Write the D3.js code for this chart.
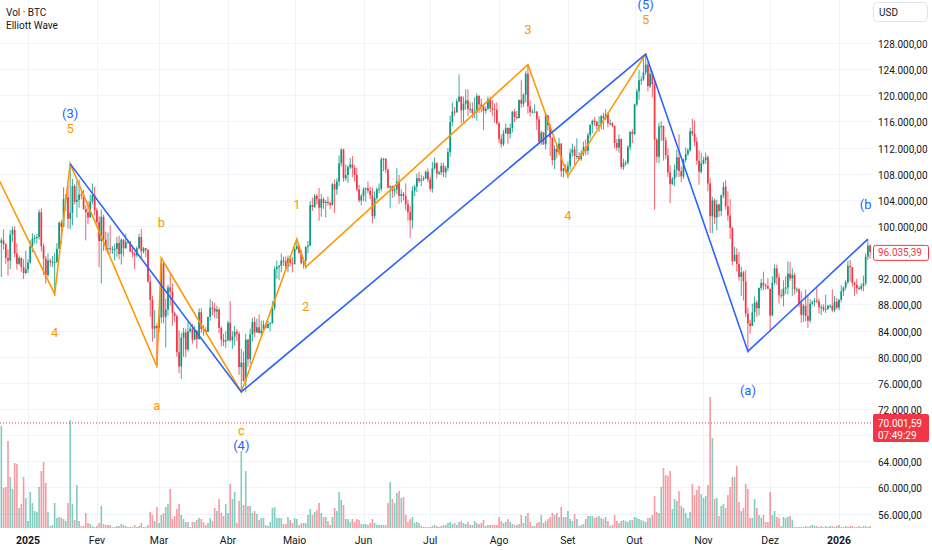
<!DOCTYPE html>
<html>
<head>
<meta charset="utf-8">
<script src="https://cdn.jsdelivr.net/npm/d3@7"></script>
<style>
  body { margin: 0; background: #ffffff; }
  svg text { font-family: Roboto, "Noto Sans", sans-serif; }
</style>
</head>
<body>
<div id="chart"></div>
<script>
// daily candles, prices in thousands of USD, first candle = 2024-12-20
var startDay = "2024-12-20";
var firstOpen = 97.4;

var closes = [
  97.8, 97.2, 95.1, 94.7, 98.7, 99.4, 95.8, 94.2, 95.1, 93.7, 92.8, 93.4,
  94.4, 96.9, 98.1, 98.2, 98.3, 102.1, 96.9, 95.0, 92.5, 94.7, 94.5, 94.5, 94.5, 96.5, 100.5, 99.9, 104.1, 104.4, 101.1, 102.0, 106.1, 103.7, 104.0, 104.8, 104.7, 102.6, 102.1, 101.3, 103.7, 104.7, 102.4,
  100.6, 97.7, 101.4, 97.9, 96.6, 96.6, 96.5, 96.5, 96.5, 97.4, 95.7, 97.9, 96.6, 97.5, 97.6, 96.1, 95.8, 95.5, 96.6, 98.3, 96.1, 96.6, 96.3, 91.5, 88.7, 84.3, 84.7, 84.4,
  86.0, 94.3, 86.1, 87.2, 90.6, 89.9, 86.7, 86.2, 80.7, 78.5, 82.9, 83.7, 81.1, 83.9, 84.3, 82.6, 84.0, 82.7, 86.8, 84.2, 84.1, 83.8, 86.1, 87.5, 87.4, 86.9, 87.2, 84.4, 82.6, 82.3, 82.5,
  85.2, 82.5, 83.1, 83.8, 83.5, 78.4, 79.1, 76.3, 82.6, 79.6, 83.4, 85.3, 83.7, 84.5, 83.6, 84.0, 84.9, 84.4, 85.0, 85.1, 87.5, 93.4, 93.7, 93.9, 94.7, 94.6, 93.8, 95.0, 94.3, 94.2,
  96.5, 96.9, 95.9, 94.3, 94.7, 96.8, 97.0, 103.2, 102.9, 104.6, 104.1, 102.8, 104.1, 103.5, 103.7, 103.5, 103.2, 106.4, 105.6, 106.8, 109.6, 111.7, 107.3, 107.8, 109.0, 109.4, 108.9, 107.8, 105.6, 103.9, 104.6,
  105.6, 105.8, 105.4, 104.7, 101.5, 104.3, 105.6, 105.7, 110.2, 110.3, 108.6, 105.9, 106.1, 105.4, 105.6, 106.8, 104.6, 104.9, 104.6, 103.3, 102.1, 100.9, 105.4, 106.0, 107.3, 106.9, 107.1, 107.3, 108.3, 107.1,
  105.7, 108.8, 109.6, 108.0, 108.2, 109.2, 108.2, 108.9, 111.3, 115.9, 117.5, 117.4, 119.1, 119.8, 117.7, 118.7, 119.2, 117.9, 117.9, 117.3, 117.4, 119.9, 118.6, 118.3, 117.6, 117.9, 119.4, 118.0, 117.9, 117.8, 115.7,
  113.3, 112.5, 114.2, 115.0, 114.1, 115.0, 117.5, 116.7, 116.5, 119.3, 118.7, 120.1, 123.3, 118.3, 117.4, 117.5, 117.5, 116.3, 112.9, 114.3, 112.5, 116.9, 115.4, 113.5, 110.1, 111.8, 111.3, 112.6, 108.4, 108.8, 108.3,
  109.2, 111.2, 111.7, 110.7, 110.7, 110.2, 111.1, 112.1, 111.5, 113.9, 115.5, 116.1, 115.9, 115.3, 115.4, 116.8, 116.5, 117.1, 115.7, 115.7, 115.3, 112.7, 112.0, 113.3, 109.0, 109.6, 109.7, 112.1, 114.4, 114.1,
  118.6, 120.6, 122.3, 122.4, 123.5, 124.7, 121.4, 123.3, 121.7, 113.2, 110.6, 115.2, 115.3, 113.1, 110.8, 108.2, 106.4, 107.2, 108.6, 110.5, 108.4, 107.6, 110.1, 111.0, 111.6, 114.5, 114.1, 112.9, 110.0, 108.3, 109.6,
  110.1, 110.5, 106.5, 101.5, 103.9, 101.3, 103.3, 102.3, 104.7, 106.0, 103.0, 101.6, 99.7, 94.6, 95.6, 94.2, 92.2, 92.9, 91.5, 86.6, 85.1, 84.7, 86.8, 88.3, 87.4, 90.5, 91.3, 90.9, 90.8, 90.4,
  86.3, 91.3, 93.5, 92.1, 89.4, 89.3, 90.4, 90.6, 92.7, 92.0, 92.5, 90.3, 90.3, 88.2, 86.4, 87.8, 86.2, 85.5, 88.1, 88.4, 88.6, 88.5, 87.6, 87.6, 87.2, 87.3, 87.8, 87.8, 87.1, 88.4, 87.5,
  88.7, 90.0, 90.6, 91.4, 93.9, 93.7, 91.3, 91.0, 90.5, 90.4, 90.8, 91.2, 95.3, 97.0, 96.035
];

var highs = [
  98.2, 99.5, 97.4, 96.4, 99.4, 99.9, 99.9, 97.3, 95.5, 95.2, 94.9, 96.2,
  94.9, 97.8, 98.9, 98.7, 98.8, 102.5, 102.7, 97.3, 95.4, 95.8, 95.0, 95.4, 95.9, 97.4, 100.7, 100.9, 105.9, 104.9, 106.3, 109.6, 107.2, 106.4, 106.8, 107.1, 105.3, 105.5, 103.2, 103.8, 104.8, 106.5, 106.0,
  102.8, 101.5, 102.5, 101.7, 99.1, 99.0, 100.1, 96.9, 97.3, 98.3, 98.5, 98.1, 98.0, 98.8, 97.9, 97.7, 97.0, 96.0, 96.9, 98.8, 99.5, 96.8, 96.5, 96.5, 92.5, 89.3, 87.1, 85.1,
  86.6, 95.0, 94.4, 88.9, 91.0, 92.8, 91.2, 86.9, 86.5, 84.0, 83.6, 84.4, 84.3, 85.3, 84.7, 85.0, 84.7, 84.0, 87.4, 87.4, 84.8, 84.5, 86.1, 88.8, 88.5, 88.3, 87.8, 87.5, 84.6, 83.5, 83.9,
  85.5, 88.5, 83.9, 84.7, 84.2, 83.8, 81.2, 80.8, 83.5, 82.7, 84.3, 85.9, 86.1, 85.8, 86.5, 85.5, 85.5, 85.1, 85.6, 85.3, 88.5, 93.8, 94.7, 94.0, 95.8, 95.3, 95.3, 95.5, 95.5, 95.2,
  97.4, 97.9, 96.9, 96.3, 95.2, 96.9, 97.7, 103.8, 104.3, 104.9, 104.9, 105.8, 104.9, 104.4, 104.0, 104.5, 103.7, 106.6, 107.1, 107.3, 110.8, 111.9, 111.8, 109.4, 109.3, 110.4, 110.7, 109.3, 108.9, 106.3, 104.9,
  105.9, 105.9, 106.8, 106.0, 105.9, 105.3, 105.9, 106.5, 110.5, 110.4, 110.4, 108.8, 106.2, 106.2, 106.0, 108.9, 107.8, 105.6, 105.2, 106.5, 104.0, 103.0, 106.1, 106.3, 108.0, 108.3, 107.8, 107.6, 108.5, 108.8,
  107.5, 109.8, 110.5, 109.8, 108.5, 109.7, 109.7, 109.2, 111.9, 116.9, 118.9, 118.2, 119.5, 123.2, 119.9, 119.8, 120.9, 120.9, 118.9, 118.9, 119.7, 120.3, 120.0, 119.5, 118.5, 118.3, 119.8, 119.8, 119.3, 118.8, 118.9,
  116.0, 114.0, 114.7, 115.7, 115.1, 115.7, 117.6, 117.9, 117.6, 119.3, 122.3, 120.3, 123.7, 124.5, 119.2, 117.9, 118.6, 117.6, 116.8, 114.6, 114.4, 117.4, 117.0, 115.6, 113.6, 112.4, 112.6, 113.5, 112.7, 108.9, 109.5,
  109.9, 111.8, 112.6, 112.2, 113.4, 111.3, 111.6, 112.9, 113.2, 114.3, 115.5, 116.3, 116.7, 116.1, 116.8, 117.0, 117.3, 117.9, 117.4, 116.3, 115.9, 115.4, 113.3, 114.0, 113.4, 110.3, 110.0, 112.4, 114.5, 114.8,
  118.7, 121.0, 123.9, 122.9, 125.7, 126.2, 125.1, 124.2, 123.7, 122.5, 113.5, 115.8, 116.0, 115.4, 113.6, 111.9, 109.3, 107.5, 109.4, 111.7, 114.0, 109.1, 110.3, 112.0, 111.9, 115.0, 116.4, 116.1, 113.6, 111.6, 111.2,
  110.6, 111.2, 110.8, 107.3, 104.5, 104.2, 104.0, 103.4, 104.8, 106.7, 107.0, 105.3, 104.1, 99.9, 96.8, 96.6, 96.0, 93.8, 93.1, 93.2, 87.5, 85.6, 88.1, 89.2, 88.6, 90.6, 91.9, 93.0, 91.2, 92.0,
  90.4, 92.3, 94.1, 94.1, 92.7, 90.3, 91.7, 92.3, 94.6, 94.5, 93.5, 92.8, 90.6, 90.5, 90.0, 88.1, 90.3, 89.4, 88.8, 88.6, 89.0, 90.6, 88.9, 88.0, 88.0, 89.5, 87.9, 88.0, 90.3, 89.3, 89.0,
  88.8, 90.9, 90.7, 91.7, 94.7, 94.8, 93.6, 91.5, 91.9, 90.8, 91.2, 92.4, 95.8, 97.9, 97.2
];

var lows = [
  92.2, 96.4, 94.2, 92.4, 93.4, 97.6, 95.2, 93.3, 94.0, 93.0, 91.9, 92.6,
  92.8, 94.2, 96.0, 97.3, 97.3, 97.9, 96.1, 92.5, 91.2, 92.2, 93.8, 93.7, 89.3, 94.3, 96.5, 97.3, 100.0, 102.3, 99.6, 99.5, 100.1, 103.3, 101.3, 102.8, 104.1, 102.5, 97.8, 100.3, 101.3, 103.3, 101.6,
  100.3, 93.7, 91.2, 96.2, 96.2, 95.7, 95.7, 95.7, 94.7, 95.3, 94.9, 94.1, 95.3, 96.5, 97.3, 96.0, 95.2, 93.4, 95.2, 96.4, 94.9, 95.8, 95.2, 91.3, 86.1, 82.3, 82.8, 78.3,
  83.7, 85.1, 85.1, 81.4, 86.3, 87.8, 84.7, 85.3, 80.0, 77.5, 76.6, 80.0, 79.9, 80.8, 83.6, 82.0, 82.5, 81.2, 82.6, 83.6, 83.2, 83.7, 83.8, 85.5, 86.3, 85.9, 85.8, 83.6, 81.6, 81.6, 81.3,
  82.4, 82.3, 81.2, 81.7, 82.4, 77.2, 74.5, 76.2, 74.6, 78.4, 78.9, 82.3, 83.0, 83.7, 83.6, 83.1, 83.9, 84.3, 84.3, 83.9, 85.1, 87.1, 91.9, 91.7, 92.9, 93.9, 93.1, 92.9, 93.8, 92.9,
  94.1, 96.3, 95.7, 94.1, 93.5, 93.4, 95.8, 96.9, 102.3, 102.8, 103.3, 100.8, 101.4, 102.6, 101.3, 103.1, 102.6, 103.1, 102.0, 104.8, 106.1, 109.1, 106.8, 106.9, 106.6, 108.7, 107.5, 106.8, 105.3, 103.6, 103.1,
  103.8, 103.7, 105.0, 104.1, 100.4, 101.1, 103.9, 105.0, 105.3, 108.4, 108.1, 105.7, 102.7, 104.3, 104.5, 104.9, 103.4, 103.6, 103.9, 102.4, 100.8, 98.2, 99.6, 104.6, 105.2, 106.6, 106.1, 106.9, 107.2, 106.7,
  105.3, 105.1, 108.6, 107.3, 107.8, 107.8, 107.5, 107.4, 108.4, 110.6, 115.3, 116.9, 117.3, 118.9, 115.7, 115.9, 117.8, 116.8, 117.3, 116.5, 116.5, 116.1, 117.3, 117.4, 114.7, 117.2, 117.8, 117.4, 116.9, 115.8, 115.5,
  112.7, 112.0, 112.2, 114.1, 112.6, 113.4, 114.3, 115.9, 116.3, 116.5, 118.1, 118.2, 118.9, 117.2, 116.8, 117.2, 117.3, 114.7, 112.7, 112.4, 112.4, 111.7, 114.6, 110.7, 109.3, 108.7, 110.4, 110.9, 107.5, 107.4, 108.1,
  107.3, 108.6, 110.6, 109.3, 110.2, 110.0, 110.0, 110.7, 110.8, 110.9, 113.4, 114.2, 115.3, 114.8, 114.4, 114.8, 114.7, 116.2, 115.1, 115.4, 115.1, 111.9, 111.5, 111.2, 108.7, 108.6, 109.2, 109.4, 111.6, 112.7,
  113.9, 118.3, 119.3, 121.6, 122.2, 123.1, 120.6, 121.1, 119.7, 102.5, 109.7, 109.6, 113.0, 110.0, 110.2, 107.5, 103.5, 106.3, 106.1, 107.5, 107.5, 106.7, 107.2, 109.7, 110.7, 111.3, 113.8, 112.2, 109.4, 106.3, 108.0,
  109.4, 109.5, 105.3, 98.9, 98.9, 100.3, 99.3, 101.4, 101.5, 104.3, 102.5, 100.8, 98.0, 94.0, 94.6, 93.0, 91.6, 89.3, 88.6, 86.1, 80.6, 83.5, 84.7, 85.3, 86.1, 86.3, 90.1, 90.2, 90.3, 90.3,
  83.8, 86.2, 91.0, 91.0, 88.1, 88.9, 87.7, 89.6, 89.5, 91.6, 89.3, 89.5, 89.8, 87.6, 85.2, 85.3, 85.4, 84.4, 85.2, 87.9, 87.7, 88.2, 86.6, 86.4, 86.9, 86.7, 87.2, 87.4, 86.8, 86.8, 87.3,
  87.1, 88.3, 89.3, 90.2, 91.1, 91.5, 90.7, 89.3, 89.6, 90.2, 90.1, 90.0, 90.9, 94.8, 95.0
];

// volume, thousands of BTC
var volumes = [
  102, 40, 41, 87, 51, 39, 65, 64, 20, 24, 51, 30, 7, 36, 25, 17, 16, 41, 57, 66,
  45, 16, 2, 3, 25, 10, 11, 10, 9, 7, 25, 108, 24, 8, 43, 7, 2, 2, 15, 5,
  4, 2, 1, 2, 5, 22, 4, 3, 3, 3, 1, 1, 2, 2, 4, 3, 2, 1, 1, 1,
  3, 1, 2, 5, 1, 1, 3, 16, 13, 7, 21, 5, 13, 15, 21, 24, 39, 9, 12, 19,
  24, 13, 9, 6, 6, 1, 6, 6, 8, 10, 9, 6, 3, 5, 10, 7, 20, 17, 29, 15,
  12, 24, 15, 44, 29, 36, 5, 27, 77, 23, 57, 22, 22, 15, 17, 14, 8, 10, 10, 3,
  2, 6, 20, 21, 10, 10, 10, 4, 4, 11, 8, 5, 10, 9, 3, 5, 5, 5, 13, 19,
  13, 16, 18, 25, 15, 11, 11, 7, 3, 11, 20, 17, 36, 28, 23, 9, 9, 6, 9, 6,
  9, 8, 4, 4, 4, 3, 5, 9, 5, 3, 3, 3, 3, 3, 25, 46, 29, 25, 35, 37,
  30, 31, 13, 6, 9, 11, 5, 6, 5, 2, 1, 1, 1, 1, 2, 3, 2, 1, 2, 3,
  3, 5, 6, 4, 5, 3, 6, 7, 5, 4, 6, 3, 3, 7, 5, 4, 5, 8, 2, 3,
  3, 3, 3, 3, 11, 7, 5, 6, 9, 6, 4, 3, 3, 4, 13, 5, 12, 15, 6, 2,
  2, 5, 6, 13, 5, 7, 9, 11, 15, 13, 15, 11, 21, 11, 11, 17, 9, 7, 14, 9,
  2, 3, 4, 9, 12, 12, 12, 10, 11, 12, 10, 9, 11, 7, 2, 3, 13, 7, 5, 7,
  8, 7, 6, 8, 8, 11, 10, 9, 8, 7, 6, 10, 10, 13, 32, 16, 15, 41, 60, 53,
  52, 57, 19, 29, 27, 37, 22, 20, 15, 10, 16, 44, 33, 38, 42, 34, 30, 32, 43, 131,
  90, 29, 30, 12, 22, 24, 20, 33, 41, 51, 51, 62, 26, 17, 20, 44, 39, 10, 10, 29,
  20, 13, 10, 13, 6, 6, 36, 13, 17, 11, 10, 2, 11, 10, 11, 12, 8,
  1, 1, 1, 1, 1, 2, 1, 2, 3, 2, 2, 1, 2, 1, 2, 1, 2, 2, 1, 2,
  3, 1, 1, 2, 1, 2, 2, 1, 1, 2, 1, 2, 2, 1, 2
];

// Elliott wave pivots
var blueWaveDates  = ["2025-01-20", "2025-04-07", "2025-10-06", "2025-11-21", "2026-01-14"];
var blueWavePrices = [109.5, 74.6, 126.3, 80.8, 98.0];
var blueWaveLabels = ["(3)", "(4)", "(5)", "(a)", "(b)"];

var orangeWaveDates  = ["2024-12-17", "2025-01-13", "2025-01-20", "2025-02-28", "2025-03-02", "2025-04-07",
                        "2025-05-02", "2025-05-06", "2025-08-14", "2025-09-01", "2025-10-06"];
var orangeWavePrices = [108.4, 89.6, 109.5, 78.5, 95.1, 74.6, 98.0, 93.7, 124.7, 107.6, 126.3];
var orangeWaveLabels = ["", "4", "5", "a", "b", "c", "1", "2", "3", "4", "5"];

var monthLabels = ["2025", "Fev", "Mar", "Abr", "Maio", "Jun", "Jul", "Ago", "Set", "Out", "Nov", "Dez", "2026"];
var priceTicks = [56, 60, 64, 68, 72, 76, 80, 84, 88, 92, 96, 100, 104, 108, 112, 116, 120, 124, 128];
var lastPrice = 96.03539;
var livePrice = 70.00159;
var liveCountdown = "07:49:29";

var width = 932, height = 550;
var plotRight = 872;
var volBase = 528;
var upColor = "#089981", downColor = "#f23645";
var blueColor = "#2962ff", orangeColor = "#ff9800";
var textColor = "#131722";

var parseDay = d3.utcParse("%Y-%m-%d");
var first = parseDay(startDay);
var bars = closes.map(function (c, i) {
    var o = i === 0 ? firstOpen : closes[i - 1];
    return {
        date: d3.utcDay.offset(first, i),
        open: o,
        close: c,
        high: Math.max(highs[i], o, c),
        low: Math.min(lows[i], o, c),
        vol: volumes[i]
    };
});

var x = d3.scaleUtc()
    .domain([parseDay("2025-01-01"), parseDay("2026-01-01")])
    .range([28, 839]);
var y = d3.scaleLinear().domain([56, 128]).range([513.5, 43]);
var yVol = d3.scaleLinear().domain([0, 130]).range([volBase, volBase - 130]);

var fmtLocale = d3.formatLocale({ decimal: ",", thousands: ".", grouping: [3], currency: ["", ""] });
var fmtPrice = function (v) { return fmtLocale.format(",.2f")(v * 1000); };

var svg = d3.select("#chart").append("svg")
    .attr("width", width)
    .attr("height", height);

svg.append("defs").append("clipPath").attr("id", "plotClip")
    .append("rect").attr("x", 0).attr("y", 0).attr("width", plotRight).attr("height", 530);

// grid
var months = d3.utcMonth.range(parseDay("2025-01-01"), parseDay("2026-01-02"));
var grid = svg.append("g");
grid.selectAll("line.h").data(priceTicks).enter().append("line")
    .attr("x1", 0).attr("x2", plotRight)
    .attr("y1", function (d) { return Math.round(y(d)) + 0.5; })
    .attr("y2", function (d) { return Math.round(y(d)) + 0.5; })
    .style("stroke", "#f0f3fa");
grid.selectAll("line.v").data(months).enter().append("line")
    .attr("x1", function (d) { return Math.round(x(d)) + 0.5; })
    .attr("x2", function (d) { return Math.round(x(d)) + 0.5; })
    .attr("y1", 0).attr("y2", 530)
    .style("stroke", "#f0f3fa");

var plot = svg.append("g").attr("clip-path", "url(#plotClip)");

// volume
plot.append("g").selectAll("rect").data(bars).enter().append("rect")
    .attr("x", function (d) { return x(d.date) - 0.8; })
    .attr("width", 1.6)
    .attr("y", function (d) { return yVol(d.vol); })
    .attr("height", function (d) { return volBase - yVol(d.vol); })
    .attr("fill", function (d) { return d.close >= d.open ? upColor : downColor; })
    .attr("fill-opacity", 0.5);

// candles
var candles = plot.append("g").selectAll("g").data(bars).enter().append("g");
candles.append("line")
    .attr("x1", function (d) { return x(d.date); })
    .attr("x2", function (d) { return x(d.date); })
    .attr("y1", function (d) { return y(d.high); })
    .attr("y2", function (d) { return y(d.low); })
    .attr("stroke-width", 0.8)
    .attr("stroke", function (d) { return d.close >= d.open ? upColor : downColor; });
candles.append("rect")
    .attr("x", function (d) { return x(d.date) - 0.85; })
    .attr("width", 1.7)
    .attr("y", function (d) { return y(Math.max(d.open, d.close)); })
    .attr("height", function (d) { return Math.max(1, Math.abs(y(d.open) - y(d.close))); })
    .attr("fill", function (d) { return d.close >= d.open ? upColor : downColor; });

// live price dotted line
plot.append("line")
    .attr("x1", 0).attr("x2", plotRight)
    .attr("y1", y(livePrice) + 1).attr("y2", y(livePrice) + 1)
    .attr("stroke", downColor).attr("stroke-width", 1)
    .attr("stroke-dasharray", "1,2");

// waves
var waveLine = d3.line()
    .x(function (d) { return x(d.date); })
    .y(function (d) { return y(d.price); });

function pivots(dates, prices, labels) {
    return dates.map(function (d, i) {
        return { date: parseDay(d), price: prices[i], label: labels[i] };
    });
}
var orangePts = pivots(orangeWaveDates, orangeWavePrices, orangeWaveLabels);
var bluePts = pivots(blueWaveDates, blueWavePrices, blueWaveLabels);

plot.append("path").datum(orangePts)
    .attr("d", waveLine).attr("fill", "none")
    .attr("stroke", orangeColor).attr("stroke-width", 1.6);
plot.append("path").datum(bluePts)
    .attr("d", waveLine).attr("fill", "none")
    .attr("stroke", blueColor).attr("stroke-width", 1.6);

function isPeak(pts, i) {
    if (i > 0) return pts[i].price > pts[i - 1].price;
    return pts[i].price > pts[i + 1].price;
}
var orangeKeys = {};
orangePts.forEach(function (p) { if (p.label) orangeKeys[+p.date] = true; });

var waveLabels = [];
orangePts.forEach(function (p, i) {
    if (!p.label) return;
    var peak = isPeak(orangePts, i);
    waveLabels.push({ date: p.date, text: p.label, color: orangeColor,
        y: y(p.price) + (peak ? -35 : 39) });
});
bluePts.forEach(function (p, i) {
    var peak = isPeak(bluePts, i);
    var stacked = orangeKeys[+p.date];
    var off = peak ? (stacked ? -50 : -35) : (stacked ? 54 : 39);
    waveLabels.push({ date: p.date, text: p.label, color: blueColor, y: y(p.price) + off });
});

plot.append("g").selectAll("text").data(waveLabels).enter().append("text")
    .attr("x", function (d) { return x(d.date); })
    .attr("y", function (d) { return d.y; })
    .attr("text-anchor", "middle")
    .attr("dominant-baseline", "central")
    .attr("font-size", 13)
    .attr("fill", function (d) { return d.color; })
    .text(function (d) { return d.text; });

// legend
svg.append("text").attr("x", 6).attr("y", 12.5).attr("dominant-baseline", "central")
    .attr("font-size", 10).attr("fill", textColor).text("Vol · BTC");
svg.append("text").attr("x", 6).attr("y", 25).attr("dominant-baseline", "central")
    .attr("font-size", 10).attr("fill", textColor).text("Elliott Wave");

// price axis, ticks hidden behind the price labels are left out
var hiddenBy = [lastPrice, livePrice];
var shownTicks = priceTicks.filter(function (t) {
    return hiddenBy.every(function (p) { return Math.abs(y(t) - y(p)) > 13; });
});
var axisG = svg.append("g");
axisG.selectAll("text").data(shownTicks).enter().append("text")
    .attr("x", 878)
    .attr("y", function (d) { return y(d) + 1.5; })
    .attr("dominant-baseline", "central")
    .attr("font-size", 10)
    .attr("fill", textColor)
    .text(fmtPrice);

axisG.append("rect")
    .attr("x", 873.5).attr("y", 2.5).attr("width", 54).attr("height", 19).attr("rx", 4)
    .attr("fill", "#ffffff").attr("stroke", "#e0e3eb");
axisG.append("text").attr("x", 879).attr("y", 12).attr("dominant-baseline", "central")
    .attr("font-size", 10).attr("fill", textColor).text("USD");

// last candle price
axisG.append("rect")
    .attr("x", 873.5).attr("y", y(lastPrice) - 6.5).attr("width", 55).attr("height", 15).attr("rx", 2)
    .attr("fill", "#ffffff").attr("stroke", downColor);
axisG.append("text").attr("x", 878).attr("y", y(lastPrice) + 1).attr("dominant-baseline", "central")
    .attr("font-size", 10).attr("fill", downColor).text(fmtPrice(lastPrice));

// live price with countdown
axisG.append("rect")
    .attr("x", 873).attr("y", y(livePrice) - 8).attr("width", 56).attr("height", 28).attr("rx", 2)
    .attr("fill", downColor);
axisG.append("text").attr("x", 878).attr("y", y(livePrice) + 1).attr("dominant-baseline", "central")
    .attr("font-size", 10).attr("fill", "#ffffff").text(fmtPrice(livePrice));
axisG.append("text").attr("x", 878).attr("y", y(livePrice) + 13).attr("dominant-baseline", "central")
    .attr("font-size", 10).attr("fill", "#ffffff").text(liveCountdown);

// time axis
svg.append("g").selectAll("text").data(months).enter().append("text")
    .attr("x", function (d) { return x(d); })
    .attr("y", 540)
    .attr("text-anchor", "middle")
    .attr("dominant-baseline", "central")
    .attr("font-size", 10.5)
    .attr("font-weight", function (d, i) { return (i === 0 || i === months.length - 1) ? 700 : 400; })
    .attr("fill", textColor)
    .text(function (d, i) { return monthLabels[i]; });
</script>
</body>
</html>
